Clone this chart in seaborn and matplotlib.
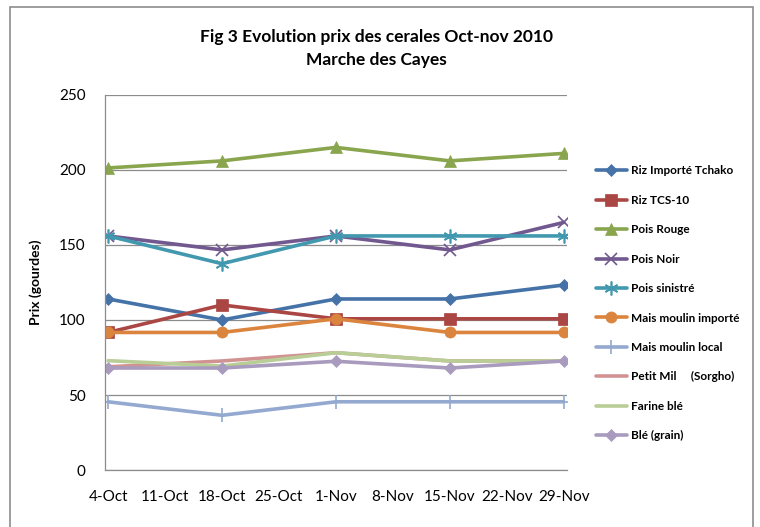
import matplotlib
matplotlib.use('Agg')
from matplotlib import pyplot as plt
from matplotlib.patches import Rectangle
import matplotlib.dates as mdates
import pandas as pd
import seaborn as sns

# Relevés de prix (gourdes), marché des Cayes
dates = ['2010-10-04', '2010-10-18', '2010-11-01', '2010-11-15', '2010-11-29']

riz_importe = [114, 100, 114, 114, 123.3]
riz_tcs10 = [91.7, 110, 100.8, 100.8, 100.8]
pois_rouge = [201.3, 206, 215, 206, 211]
pois_noir = [156, 146.7, 156, 146.7, 165]
pois_sinistre = [156, 137.5, 156, 156, 156]
mais_importe = [91.7, 91.7, 100.8, 91.7, 91.7]
mais_local = [45.5, 36.5, 45.5, 45.5, 45.5]
petit_mil = [68.8, 72.7, 78.2, 72.7, 72.7]
farine_ble = [72.9, 69.3, 78.2, 72.7, 72.7]
ble_grain = [68, 68, 72.5, 68, 72.7]

series = [
    ('Riz Importé Tchako', riz_importe, '#4572A7', 'D', 6),
    ('Riz TCS-10', riz_tcs10, '#AA4643', 's', 8),
    ('Pois Rouge', pois_rouge, '#89A54E', '^', 8),
    ('Pois Noir', pois_noir, '#71588F', 'x', 8),
    ('Pois sinistré', pois_sinistre, '#4198AF', (6, 2, 0), 10),
    ('Mais moulin importé', mais_importe, '#DB843D', 'o', 8),
    ('Mais moulin local', mais_local, '#93A9CF', '+', 10),
    ('Petit Mil     (Sorgho)', petit_mil, '#D19392', None, 0),
    ('Farine blé', farine_ble, '#B9CD96', None, 0),
    ('Blé (grain)', ble_grain, '#A99BBD', 'D', 6),
]

sns.set_style('white')
plt.rcParams['font.family'] = ['Lato', 'DejaVu Sans']
plt.rcParams['text.color'] = 'black'

fig = plt.figure(figsize=(7.6, 5.27), dpi=100)
ax = fig.add_axes([0.138, 0.108, 0.608, 0.712])

x = pd.to_datetime(dates)
for name, values, color, marker, size in series:
    df = pd.DataFrame({'date': x, 'prix': values})
    sns.lineplot(
        data=df, x='date', y='prix', ax=ax, label=name,
        color=color, marker=marker, markersize=size,
        markeredgecolor=color, markeredgewidth=1.2 if marker in ('x', '+', (6, 2, 0)) else 0.5,
        linewidth=2.6,
    )

ax.set_ylim(0, 250)
ax.set_yticks(range(0, 251, 50))
ax.set_xlim(x[0] - pd.Timedelta(days=0.4), x[-1] + pd.Timedelta(days=0.4))
ax.set_xticks(pd.date_range('2010-10-04', '2010-11-29', freq='7D'))
ax.xaxis.set_major_formatter(mdates.DateFormatter('%-d-%b'))
ax.tick_params(length=0, labelsize=11, colors='black')
ax.tick_params(axis='x', pad=14)
ax.tick_params(axis='y', pad=14)

ax.grid(axis='y', color='#8C8C8C', linewidth=0.9)
ax.set_axisbelow(True)
for side in ('top', 'right'):
    ax.spines[side].set_visible(False)
for side in ('left', 'bottom'):
    ax.spines[side].set_color('#8C8C8C')
    ax.spines[side].set_linewidth(0.9)

ax.set_xlabel('')
ax.set_ylabel('Prix (gourdes)', fontsize=10, fontweight='bold', labelpad=8, color='black')
ax.yaxis.set_label_coords(-0.135, 0.5)

fig.text(0.495, 0.93, 'Fig 3 Evolution prix des cerales Oct-nov 2010',
         ha='center', va='center', fontsize=12.5, fontweight='bold')
fig.text(0.495, 0.886, 'Marche des Cayes',
         ha='center', va='center', fontsize=12.5, fontweight='bold')

leg = ax.legend(loc='upper left', bbox_to_anchor=(0.778, 0.695), bbox_transform=fig.transFigure,
                frameon=False, prop={'weight': 'bold', 'size': 8.5},
                handlelength=2.6, handletextpad=0.4, labelspacing=1.56, borderaxespad=0)
for t in leg.get_texts():
    t.set_color('black')

fig.patches.append(Rectangle((0.013, -0.02), 0.978, 1.007, transform=fig.transFigure,
                             fill=False, edgecolor='#8C8C8C', linewidth=1.2))

plt.savefig('out.png', dpi=100)
